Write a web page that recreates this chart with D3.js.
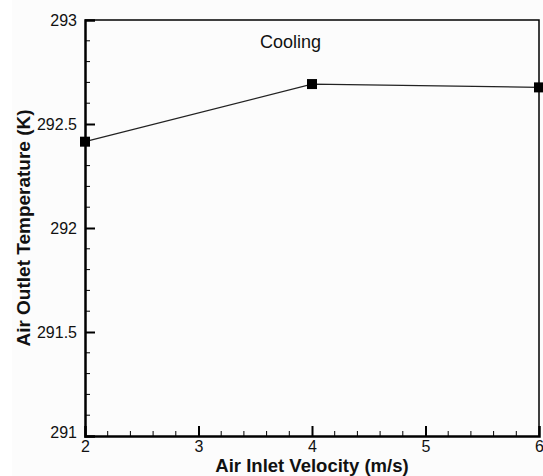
<!DOCTYPE html>
<html><head><meta charset="utf-8">
<script src="https://cdn.jsdelivr.net/npm/d3@7"></script>
<style>html,body{margin:0;padding:0;background:#fff;}svg{display:block;}</style>
</head><body>
<script>
const velocity = [2, 4, 6];
const temperature = [292.415, 292.692, 292.676];
const xTicks = [2, 3, 4, 5, 6];
const yTicks = [291, 291.5, 292, 292.5, 293];
const xLabel = "Air Inlet Velocity (m/s)";
const yLabel = "Air Outlet Temperature (K)";
const annotation = "Cooling";

const W = 543, H = 476;
const m = {left: 85, right: 4, top: 20, bottom: 40};
const svg = d3.select("body").append("svg").attr("width", W).attr("height", H);
svg.append("rect").attr("x", 12).attr("y", 0).attr("width", W - 12).attr("height", H).attr("fill", "#fcfcfc");

const x = d3.scaleLinear().domain([2, 6]).range([m.left, W - m.right]);
const y = d3.scaleLinear().domain([291, 293]).range([H - m.bottom, m.top]);
const font = "Liberation Sans, Arial, sans-serif";

// frame top/right
svg.append("path").attr("d", `M${x(2)},${y(293)}H${x(6)}V${y(291)}`).attr("fill", "none").attr("stroke", "#000").attr("stroke-width", 1.5);

// minor ticks
const xMinor = d3.range(2, 6.001, 0.2).filter(v => Math.abs(v - Math.round(v)) > 1e-6);
const yMinor = d3.range(291, 293.001, 0.1).filter(v => Math.abs(v * 2 - Math.round(v * 2)) > 1e-6);

const xAxis = d3.axisBottom(x).tickValues(xTicks).tickSize(-10).tickPadding(13.5).tickFormat(d3.format("d"));
const gx = svg.append("g").attr("transform", `translate(0,${y(291)})`).call(xAxis);
gx.selectAll(".tick").filter(d => d === 2 || d === 6).select("line").remove();
gx.append("g").selectAll("line").data(xMinor).join("line")
  .attr("x1", d => x(d)).attr("x2", d => x(d)).attr("y1", 0).attr("y2", -5)
  .attr("stroke", "#000").attr("stroke-width", 1);

const yAxis = d3.axisLeft(y).tickValues(yTicks).tickSize(-10).tickPadding(8).tickFormat(d => d3.format("")(d));
const gy = svg.append("g").attr("transform", `translate(${x(2)},0)`).call(yAxis);
gy.selectAll(".tick").filter(d => d === 291 || d === 293).select("line").remove();
gy.append("g").selectAll("line").data(yMinor).join("line")
  .attr("y1", d => y(d)).attr("y2", d => y(d)).attr("x1", 0).attr("x2", 5)
  .attr("stroke", "#000").attr("stroke-width", 1);

[gx, gy].forEach(g => {
  g.select(".domain").attr("stroke", "#000").attr("stroke-width", 2.5);
  g.selectAll(".tick line").attr("stroke", "#000").attr("stroke-width", 2);
  g.selectAll("text").attr("font-family", font).attr("font-size", 16).attr("fill", "#111");
});
gy.selectAll(".tick").filter(d => d === 291).select("text").attr("dy", "0.1em");
gx.selectAll(".tick text").attr("dy", "0.15em");

// line
const line = d3.line().x((d, i) => x(velocity[i])).y(d => y(d));
svg.append("path").datum(temperature).attr("d", line).attr("fill", "none").attr("stroke", "#222").attr("stroke-width", 1.2);
svg.append("g").selectAll("rect").data(temperature).join("rect")
  .attr("x", (d, i) => x(velocity[i]) - 5).attr("y", d => y(d) - 5)
  .attr("width", 10).attr("height", 10).attr("fill", "#000");

svg.append("text").attr("x", 260).attr("y", 48).text(annotation)
  .attr("font-family", font).attr("font-size", 18).attr("fill", "#111");

svg.append("text").attr("x", (x(2) + x(6)) / 2).attr("y", 472).attr("text-anchor", "middle")
  .attr("font-family", font).attr("font-weight", "bold").attr("font-size", 18.5).attr("fill", "#111").text(xLabel);
svg.append("text").attr("transform", `translate(30,${(y(291) + y(293)) / 2}) rotate(-90)`).attr("text-anchor", "middle")
  .attr("font-family", font).attr("font-weight", "bold").attr("font-size", 19).attr("fill", "#111").text(yLabel);
</script>
</body></html>
